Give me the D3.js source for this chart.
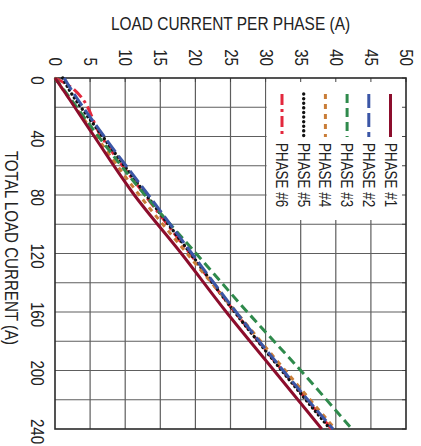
<!DOCTYPE html>
<html>
<head>
<meta charset="utf-8">
<script src="https://cdn.jsdelivr.net/npm/d3@7"></script>
<style>
  body { margin: 0; background: #fff; }
  text { font-family: "Liberation Sans", Arial, sans-serif; fill: #222; }
</style>
</head>
<body>
<div id="chart"></div>
<script>
// values (chart is drawn turned 90 degrees clockwise)
var totalTicks = [0, 40, 80, 120, 160, 200, 240];
var phaseTicks = [0, 5, 10, 15, 20, 25, 30, 35, 40, 45, 50];
var totals = [0, 7, 40, 80, 120, 160, 200, 240];
var phase1 = [0, 1.0, 5.6, 11.3, 18.0, 24.4, 31.2, 38.0];
var phase2 = [1.3, 2.2, 7.0, 13.3, 19.5, 25.8, 32.5, 39.6];
var phase3 = [0, 1.1, 6.2, 12.8, 20.1, 27.4, 35.0, 42.3];
var phase4 = [0, 1.0, 5.9, 12.0, 18.8, 25.8, 32.8, 39.9];
var phase5 = [1.1, 1.9, 6.8, 13.0, 19.3, 25.6, 32.3, 39.2];
var phase6 = [0, 2.5, 6.6, 12.8, 19.2, 25.6, 32.4, 39.4];
var names = ["PHASE #1", "PHASE #2", "PHASE #3", "PHASE #4", "PHASE #5", "PHASE #6"];

var series = [
  { name: names[0], values: phase1, color: "#8c0d2c", dash: null, cap: "butt" },
  { name: names[1], values: phase2, color: "#3b56a6", dash: "14,5", cap: "butt" },
  { name: names[2], values: phase3, color: "#2f8a4c", dash: "9,5", cap: "butt" },
  { name: names[3], values: phase4, color: "#c97d38", dash: "5,5", cap: "butt" },
  { name: names[4], values: phase5, color: "#111111", dash: "0.1,4.5", cap: "round" },
  { name: names[5], values: phase6, color: "#e3283d", dash: "11,4,3,4", cap: "butt" }
];

var svgWidth = 421;
var svgHeight = 446;
var plot = { left: 55, top: 78, right: 406, bottom: 429 };
var squeeze = 0.84; // narrow face look

var svg = d3.select("#chart").append("svg")
  .attr("width", svgWidth)
  .attr("height", svgHeight);

var x = d3.scaleLinear().domain([0, 50]).range([plot.left, plot.right]);
var y = d3.scaleLinear().domain([0, 240]).range([plot.top, plot.bottom]);

// grid
svg.append("g").selectAll("line.v")
  .data(phaseTicks.slice(1, -1))
  .enter().append("line")
  .attr("x1", d => x(d)).attr("x2", d => x(d))
  .attr("y1", plot.top).attr("y2", plot.bottom)
  .attr("stroke", "#5e5e5e").attr("stroke-width", 1.2);

svg.append("g").selectAll("line.h")
  .data(d3.range(20, 240, 20))
  .enter().append("line")
  .attr("x1", plot.left).attr("x2", plot.right)
  .attr("y1", d => y(d)).attr("y2", d => y(d))
  .attr("stroke", "#5e5e5e").attr("stroke-width", 1.2);

// legend box hides the grid behind it
svg.append("rect")
  .attr("x", x(30) + 1).attr("y", plot.top)
  .attr("width", plot.right - x(30) - 1)
  .attr("height", 142)
  .attr("fill", "#fff");

// small inner ticks on top and right edges
svg.append("g").selectAll("line")
  .data(phaseTicks)
  .enter().append("line")
  .attr("x1", d => x(d)).attr("x2", d => x(d))
  .attr("y1", plot.top).attr("y2", plot.top + 4)
  .attr("stroke", "#444");

var rowTicks = d3.range(0, 241, 20);
svg.append("g").selectAll("line")
  .data(rowTicks)
  .enter().append("line")
  .attr("x1", plot.right - 4).attr("x2", plot.right)
  .attr("y1", d => y(d)).attr("y2", d => y(d))
  .attr("stroke", "#444");

// frame
svg.append("rect")
  .attr("x", plot.left).attr("y", plot.top)
  .attr("width", plot.right - plot.left)
  .attr("height", plot.bottom - plot.top)
  .attr("fill", "none")
  .attr("stroke", "#2a2a2a")
  .attr("stroke-width", 1.6);

// top axis: per phase current, labels turned
var topAxis = d3.axisTop(x).tickValues(phaseTicks).tickSize(0).tickFormat(d3.format("d"));
var gTop = svg.append("g")
  .attr("transform", `translate(0, ${plot.top})`)
  .call(topAxis);
gTop.select(".domain").remove();
gTop.selectAll("text")
  .attr("x", 0).attr("y", 0).attr("dy", null)
  .attr("text-anchor", "end")
  .attr("font-size", 18)
  .attr("font-family", "Liberation Sans, Arial, sans-serif")
  .attr("fill", "#222")
  .attr("transform", `translate(-6.5, -12) rotate(90) scale(${squeeze}, 1)`);

// left axis: total current, labels turned
var leftAxis = d3.axisLeft(y).tickValues(totalTicks).tickSize(0).tickFormat(d3.format("d"));
var gLeft = svg.append("g")
  .attr("transform", `translate(${plot.left}, 0)`)
  .call(leftAxis);
gLeft.select(".domain").remove();
gLeft.selectAll("text")
  .attr("x", 0).attr("y", 0).attr("dy", null)
  .attr("text-anchor", "middle")
  .attr("font-size", 18)
  .attr("font-family", "Liberation Sans, Arial, sans-serif")
  .attr("fill", "#222")
  .attr("transform", `translate(-24, 2) rotate(90) scale(${squeeze}, 1)`);

// axis titles
svg.append("text")
  .attr("text-anchor", "middle")
  .attr("font-size", 18.4)
  .attr("transform", `translate(${(plot.left + plot.right) / 2}, 30) scale(${squeeze}, 1)`)
  .text("LOAD CURRENT PER PHASE (A)");

svg.append("text")
  .attr("text-anchor", "middle")
  .attr("font-size", 18)
  .attr("transform", `translate(4.5, 248) rotate(90) scale(${squeeze}, 1)`)
  .text("TOTAL LOAD CURRENT (A)");

// data lines
var line = d3.line()
  .x(d => x(d.phase))
  .y(d => y(d.total))
  .curve(d3.curveMonotoneY);

svg.append("g").selectAll("path")
  .data(series.slice().reverse())
  .enter().append("path")
  .attr("d", s => line(totals.map((t, i) => ({ total: t, phase: s.values[i] }))))
  .attr("fill", "none")
  .attr("stroke", s => s.color)
  .attr("stroke-width", s => s.cap === "round" ? 3.4 : 3)
  .attr("stroke-linecap", s => s.cap)
  .attr("stroke-dasharray", s => s.dash);

// legend, one column per phase, read top to bottom
var legendX = d3.scaleLinear().domain([0, 5]).range([390.5, 282]);
var legend = svg.append("g").selectAll("g")
  .data(series)
  .enter().append("g");

legend.append("line")
  .attr("x1", (d, i) => legendX(i)).attr("x2", (d, i) => legendX(i))
  .attr("y1", 94).attr("y2", 137)
  .attr("stroke", d => d.color)
  .attr("stroke-width", d => d.cap === "round" ? 3.4 : 3)
  .attr("stroke-linecap", d => d.cap)
  .attr("stroke-dasharray", d => d.dash);

legend.append("text")
  .attr("font-size", 16)
  .attr("transform", (d, i) => `translate(${legendX(i) - 6}, 143) rotate(90) scale(${squeeze}, 1)`)
  .text(d => d.name);
</script>
</body>
</html>
